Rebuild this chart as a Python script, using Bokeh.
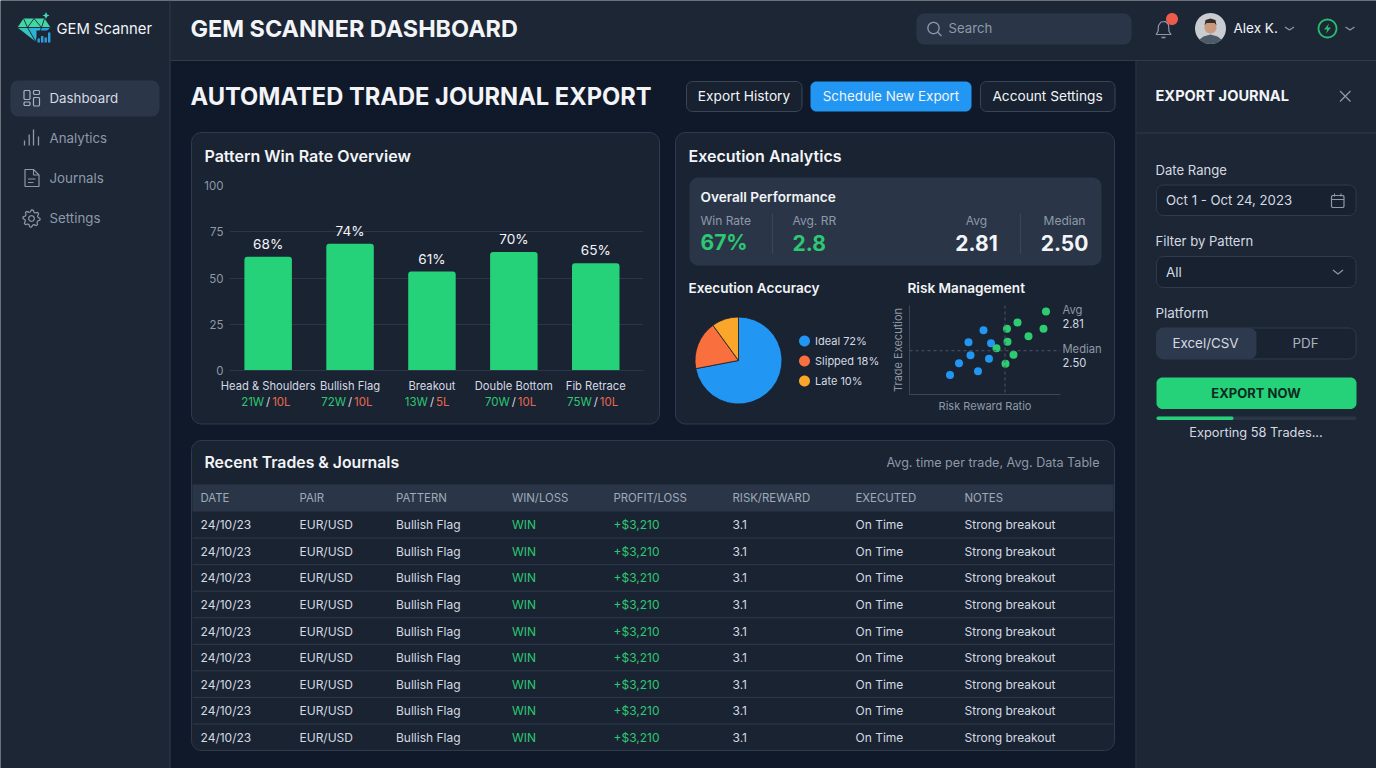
import math
from bokeh.plotting import figure
from bokeh.models import Range1d, ColumnDataSource, FixedTicker, Span
from bokeh.core.properties import value
from bokeh.embed import file_html
from bokeh.resources import INLINE

# ---------------- data ----------------
patterns = ["Head & Shoulders", "Bullish Flag", "Breakout", "Double Bottom", "Fib Retrace"]
bar_heights = [61.5, 68.5, 53.5, 64, 58]
bar_labels = ["68%", "74%", "61%", "70%", "65%"]
wins = ["21W", "72W", "13W", "70W", "75W"]
losses = ["10L", "10L", "5L", "10L", "10L"]
y_ticks = [0, 25, 50, 75, 100]

pie_names = ["Ideal", "Slipped", "Late"]
pie_values = [72, 18, 10]

low_x = [1.71, 2.27, 1.89, 2.12, 2.49, 2.08, 2.53, 2.38]
low_y = [2.01, 2.09, 2.25, 2.41, 2.34, 2.67, 2.65, 2.91]
high_x = [2.82, 2.98, 2.64, 2.86, 2.85, 3.06, 3.28, 3.58, 3.63]
high_y = [2.24, 2.42, 2.55, 2.68, 2.94, 3.07, 2.79, 2.94, 3.29]
avg_rr = 2.81
median_rr = 2.50

table_headers = ["DATE", "PAIR", "PATTERN", "WIN/LOSS", "PROFIT/LOSS", "RISK/REWARD", "EXECUTED", "NOTES"]
t_date = ["24/10/23"] * 9
t_pair = ["EUR/USD"] * 9
t_pattern = ["Bullish Flag"] * 9
t_result = ["WIN"] * 9
t_profit = ["+$3,210"] * 9
t_rr = ["3.1"] * 9
t_exec = ["On Time"] * 9
t_notes = ["Strong breakout"] * 9

nav_items = ["Dashboard", "Analytics", "Journals", "Settings"]

# ---------------- style ----------------
FONT = "Inter"
SEMI = "Inter SemiBold"
SIDE = "#1c2635"
MAIN = "#101929"
CARD = "#1a2332"
BAND = "#2a3648"
EDGE = "#2f3b4d"
WHITE = "#f2f4f7"
SOFT = "#d5dae2"
GRAY = "#8e99a8"
GREEN = "#25d27a"
TGREEN = "#2cc873"
RED = "#e8694f"
BLUE = "#2196f3"
ORANGE = "#f9703e"
AMBER = "#f9a62b"
VF = value(FONT)

canvas = figure(width=1376, height=768, x_range=Range1d(0, 1376), y_range=Range1d(768, 0),
                x_axis_type=None, y_axis_type=None, output_backend="svg", toolbar_location=None,
                min_border=0, outline_line_color=None, background_fill_color=MAIN, border_fill_color=MAIN,
                styles={"position": "absolute", "left": "0px", "top": "0px"})


def rr(x0, y0, x1, y1, r, fill=None, line=None, lw=1.0):
    xs, ys = [], []
    for cx, cy, a0 in ((x1 - r, y0 + r, -90), (x1 - r, y1 - r, 0), (x0 + r, y1 - r, 90), (x0 + r, y0 + r, 180)):
        for k in range(9):
            a = math.radians(a0 + k * 90 / 8)
            xs.append(cx + r * math.cos(a))
            ys.append(cy + r * math.sin(a))
    canvas.patch(xs, ys, fill_color=fill, line_color=line, line_width=lw)


def poly(pts, fill=None, line=None, lw=1.0):
    canvas.patch([p[0] for p in pts], [p[1] for p in pts], fill_color=fill, line_color=line, line_width=lw)


def pl(pts, color, lw=1.3):
    canvas.line([p[0] for p in pts], [p[1] for p in pts], line_color=color, line_width=lw)


def circ(cx, cy, r, fill=None, line=None, lw=1.0):
    poly([(cx + r * math.cos(i * math.pi / 24), cy + r * math.sin(i * math.pi / 24)) for i in range(48)], fill, line, lw)


def T(x, y, s, size, color=WHITE, bold=False, align="left", semi=False):
    canvas.text([x - 1], [y - 1], text=[s], text_font=value(SEMI if semi else FONT), text_font_size=f"{size}px", text_color=color,
                text_font_style="bold" if bold else "normal", text_align=align, text_baseline="middle")


def chevron(cx, cy, color=GRAY, w=4.5, h=3):
    pl([(cx - w, cy - h / 2), (cx, cy + h / 2), (cx + w, cy - h / 2)], color, 1.2)


# panels
poly([(0, 0), (170, 0), (170, 768), (0, 768)], SIDE)
poly([(170, 0), (1376, 0), (1376, 60), (170, 60)], SIDE)
poly([(1136, 60), (1376, 60), (1376, 768), (1136, 768)], SIDE)
pl([(169.5, 0), (169.5, 768)], EDGE, 1)
pl([(170, 60), (1376, 60)], EDGE, 1)
pl([(1135.5, 60), (1135.5, 768)], EDGE, 1)
pl([(1136, 132.5), (1376, 132.5)], EDGE, 1)

# logo
poly([(23, 18), (44, 18), (50, 27), (17, 27)], "#41d8a4")
poly([(17, 27), (27, 27), (35, 41)], "#34c6ba")
poly([(27, 27), (41, 27), (35, 41)], "#2cb2d6")
poly([(41, 27), (50, 27), (35, 41)], "#2a9fdf")
for seg in ([(23, 18), (27, 27), (33.5, 18), (41, 27), (44, 18)], [(17, 27), (50, 27)], [(27, 27), (35, 41), (41, 27)]):
    pl(seg, SIDE, 0.9)
poly([(36, 30), (51, 30), (51, 43), (36, 43)], SIDE)
for bx, bt in ((37, 38), (40.5, 35.5), (44, 37), (47.5, 32)):
    poly([(bx, bt), (bx + 2.4, bt), (bx + 2.4, 42), (bx, 42)], "#2a9fdf")
poly([(45.5, 11.5), (46.6, 14), (49, 15), (46.6, 16), (45.5, 18.5), (44.4, 16), (42, 15), (44.4, 14)], "#3fd6c0")
T(57, 29.5, "GEM Scanner", 14.8, WHITE)

# nav
rr(10, 80, 159, 116, 8, "#2b3749")
nav_y = [98, 138, 178, 218]
for name, y, c in zip(nav_items, nav_y, [SOFT, GRAY, GRAY, GRAY]):
    T(50, y, name, 13.3, c)
for a in ((23.5, 90, 29.5, 99), (23.5, 101.5, 29.5, 105), (33, 90, 39, 94), (33, 97, 39, 105.5)):
    rr(a[0], a[1], a[2], a[3], 1.2, None, "#a8b3c2", 1.2)
for x, top in ((24, 140), (28.7, 134), (33, 129), (38, 136)):
    pl([(x, top), (x, 145)], GRAY, 1.3)
poly([(24.5, 169), (33, 169), (38.5, 174.5), (38.5, 186), (24.5, 186)], None, GRAY, 1.2)
pl([(33, 169), (33, 174.5), (38.5, 174.5)], GRAY, 1.1)
pl([(27.5, 178.5), (35, 178.5)], GRAY, 1)
pl([(27.5, 182), (33, 182)], GRAY, 1)
gear = []
for i in range(32):
    a = i * math.pi / 16
    gear.append((31 + (8.6 if i % 4 < 2 else 6.6) * math.cos(a), 218 + (8.6 if i % 4 < 2 else 6.6) * math.sin(a)))
poly(gear, None, GRAY, 1.2)
circ(31, 218, 2.8, None, GRAY, 1.2)

# top bar
T(191, 29, "GEM SCANNER DASHBOARD", 23.4, WHITE, True)
rr(916, 13, 1131, 44, 8, BAND)
circ(933, 27.5, 5.6, None, GRAY, 1.3)
pl([(937, 31.5), (941, 35.5)], GRAY, 1.3)
T(949, 28.5, "Search", 13.2, GRAY)
pl([(1155.5, 34), (1157.5, 31), (1158, 25), (1160.5, 21.5), (1165, 21), (1168, 24), (1168.5, 31), (1170.5, 34), (1155.5, 34)], GRAY, 1.2)
pl([(1161, 37), (1165, 37)], GRAY, 1.4)
circ(1171.5, 18.5, 6, "#ef5b4b")
circ(1210, 28, 15.5, "#c9cdd1")
poly([(1199, 39), (1203, 36), (1210, 34), (1217, 36), (1221, 39), (1216, 42.8), (1210, 43.5), (1204, 42.8)], "#4d5a68")
circ(1210, 27, 6, "#c99a7e")
poly([(1204, 25), (1205, 19.5), (1210, 18), (1215, 19.5), (1216, 25), (1214, 22.5), (1206, 22.5)], "#3a2c26")
T(1234, 28.5, "Alex K.", 13.5, WHITE)
chevron(1289, 28)
circ(1327, 28, 9, None, "#27c06f", 1.8)
poly([(1328.5, 23), (1323.5, 29), (1326.8, 29), (1325.5, 33), (1330.5, 27), (1327.2, 27)], "#27c06f")
chevron(1349.5, 28)

# heading and buttons
T(191, 97, "AUTOMATED TRADE JOURNAL EXPORT", 23.7, WHITE, True)
rr(686, 81, 801.5, 111, 6, "#172130", "#3a4657")
T(744.5, 96.5, "Export History", 13.7, WHITE, align="center")
rr(810, 81, 971, 111, 6, BLUE)
T(891.5, 96.5, "Schedule New Export", 13.4, WHITE, align="center")
rr(980, 81, 1114.5, 111, 6, "#172130", "#3a4657")
T(1048, 96.5, "Account Settings", 13.7, WHITE, align="center")

# cards
rr(191, 132, 659, 423.5, 10, CARD, EDGE)
rr(675, 132, 1114, 423.5, 10, CARD, EDGE)
rr(191, 440, 1114, 750, 10, CARD, EDGE)
T(205, 156, "Pattern Win Rate Overview", 16, WHITE, semi=True)
T(689, 156, "Execution Analytics", 16, WHITE, semi=True)

# performance band
rr(689, 177, 1101, 265, 9, BAND)
T(701, 197, "Overall Performance", 13.6, WHITE, semi=True)
T(701, 220.5, "Win Rate", 12, GRAY)
T(701, 243, "67%", 21, TGREEN, True)
pl([(772, 213), (772, 253)], "#3b4759", 1)
T(793, 220.5, "Avg. RR", 12, GRAY)
T(793, 243, "2.8", 21, TGREEN, True)
T(977, 220.5, "Avg", 12, GRAY, align="center")
T(977, 243, f"{avg_rr:.2f}", 21, WHITE, True, "center")
pl([(1020, 213), (1020, 253)], "#3b4759", 1)
T(1065, 220.5, "Median", 12, GRAY, align="center")
T(1065, 243, f"{median_rr:.2f}", 21, WHITE, True, "center")

T(689, 288, "Execution Accuracy", 13.6, WHITE, semi=True)
T(908, 288, "Risk Management", 13.6, WHITE, semi=True)

# pie legend
for name, val, y, col in zip(pie_names, pie_values, [340.5, 360.5, 380.5], [BLUE, ORANGE, AMBER]):
    circ(804, y, 5.5, col)
    T(815.5, y + 0.5, f"{name} {val}%", 11, SOFT)
T(1063, 310, "Avg", 11.2, GRAY)
T(1063, 324, f"{avg_rr:.2f}", 11.2, SOFT)
T(1063, 349, "Median", 11.2, GRAY)
T(1063, 363, f"{median_rr:.2f}", 11.2, SOFT)

# table head
T(205, 463, "Recent Trades & Journals", 15.8, WHITE, semi=True)
T(1100, 463, "Avg. time per trade, Avg. Data Table", 12.6, GRAY, align="right")
poly([(192, 484), (1113, 484), (1113, 511), (192, 511)], BAND)
col_x = [200, 299, 395.5, 511.5, 613, 732, 855, 964]
for hdr, x in zip(table_headers, col_x):
    T(x + 1, 498.5, hdr, 11.4, "#a0aab8")

# right panel
T(1156, 96.5, "EXPORT JOURNAL", 14.6, WHITE, True)
pl([(1339.5, 90.5), (1350, 101)], GRAY, 1.3)
pl([(1350, 90.5), (1339.5, 101)], GRAY, 1.3)
T(1156, 170, "Date Range", 13.1, SOFT)
rr(1156, 184.5, 1355.5, 215, 7, "#18212f", EDGE)
T(1166.5, 200, "Oct 1 - Oct 24, 2023", 13.2, SOFT)
rr(1331, 195, 1343.5, 207, 1.5, None, GRAY, 1.2)
pl([(1331, 199), (1343.5, 199)], GRAY, 1.1)
pl([(1334, 193), (1334, 196)], GRAY, 1.1)
pl([(1340.5, 193), (1340.5, 196)], GRAY, 1.1)
T(1156, 241.5, "Filter by Pattern", 13.1, SOFT)
rr(1156, 256, 1355.5, 287, 7, "#18212f", EDGE)
T(1166.5, 272, "All", 13.4, SOFT)
chevron(1337.5, 271.5, GRAY, 5, 4)
T(1156, 313, "Platform", 13.4, SOFT)
rr(1156, 327.5, 1355.5, 358.5, 7, "#1a2331", EDGE)
rr(1156, 327.5, 1256, 358.5, 7, "#2d394c")
T(1206, 343.5, "Excel/CSV", 13.4, SOFT, align="center")
T(1306, 343.5, "PDF", 13.4, "#a9b3c0", align="center")
rr(1156, 377, 1356, 408.5, 6, GREEN)
T(1256.5, 393, "EXPORT NOW", 13, "#0d2a20", True, "center")
rr(1156, 416, 1356, 419.5, 1.7, "#2a3646")
rr(1156, 416, 1233, 419.5, 1.7, GREEN)
T(1256.5, 432.5, "Exporting 58 Trades...", 12.8, SOFT, align="center")


def place(fig, x, y):
    fig.styles = {"position": "absolute", "left": f"{x}px", "top": f"{y}px"}
    fig.background_fill_color = None
    fig.border_fill_color = None
    fig.outline_line_color = None
    return fig


# ---------------- bar chart ----------------
idx = list(range(len(patterns)))
bar_src = ColumnDataSource(dict(x=idx, h=bar_heights, label=bar_labels))
shared_x = Range1d(-0.472, 4.583)
bar = figure(width=460, height=220, x_range=shared_x, y_range=Range1d(0, 100), output_backend="svg",
             toolbar_location=None, min_border_left=34, min_border_right=12, min_border_top=10, min_border_bottom=25)
place(bar, 195, 175)
bar.vbar(x="x", top="h", width=47.5 / 81.9, bottom=0, source=bar_src, fill_color=GREEN, line_color=None,
         border_radius=(3, 3, 0, 0))
bar.text(x="x", y="h", text="label", source=bar_src, text_font=VF, text_font_size="13.6px", text_color=WHITE,
         text_align="center", text_baseline="bottom", y_offset=-5)
bar.xgrid.visible = False
bar.ygrid.ticker = FixedTicker(ticks=y_ticks)
bar.ygrid.grid_line_color = "#2b3749"
bar.ygrid.level = "underlay"
bar.xaxis.ticker = FixedTicker(ticks=idx)
bar.xaxis.major_label_overrides = dict(zip(idx, patterns))
bar.xaxis.major_tick_line_color = None
bar.xaxis.major_tick_out = 0
bar.xaxis.major_tick_in = 0
bar.xaxis.minor_tick_line_color = None
bar.xaxis.minor_tick_out = 0
bar.xaxis.axis_line_color = "#2b3749"
bar.xaxis.major_label_text_font = FONT
bar.xaxis.major_label_text_font_size = "11.2px"
bar.xaxis.major_label_text_color = SOFT
bar.xaxis.major_label_standoff = 8
bar.yaxis.ticker = FixedTicker(ticks=y_ticks)
bar.yaxis.major_tick_line_color = None
bar.yaxis.major_tick_out = 0
bar.yaxis.major_tick_in = 0
bar.yaxis.minor_tick_line_color = None
bar.yaxis.minor_tick_out = 0
bar.yaxis.axis_line_color = None
bar.yaxis.major_label_text_font = FONT
bar.yaxis.major_label_text_font_size = "11.5px"
bar.yaxis.major_label_text_color = GRAY
bar.yaxis.major_label_standoff = 6

wl = figure(width=460, height=18, x_range=shared_x, y_range=Range1d(0, 1), x_axis_type=None, y_axis_type=None,
            output_backend="svg", toolbar_location=None, min_border_left=34, min_border_right=12,
            min_border_top=0, min_border_bottom=0)
place(wl, 195, 392)
wl_src = ColumnDataSource(dict(x=idx, y=[0.5] * len(idx), w=wins, l=losses, s=["/"] * len(idx)))
common = dict(source=wl_src, text_font=VF, text_font_size="11.5px", text_baseline="middle")
wl.text(x="x", y="y", text="w", text_color=TGREEN, text_align="right", x_offset=-4, **common)
wl.text(x="x", y="y", text="s", text_color=SOFT, text_align="center", x_offset=0, **common)
wl.text(x="x", y="y", text="l", text_color=RED, text_align="left", x_offset=4, **common)

# ---------------- pie ----------------
total = sum(pie_values)
ends = [sum(pie_values[:i + 1]) / total for i in range(len(pie_values))]
starts = [0] + ends[:-1]
pie_src = ColumnDataSource(dict(
    start=[math.pi / 2 - 2 * math.pi * s for s in starts],
    end=[math.pi / 2 - 2 * math.pi * e for e in ends],
    color=[BLUE, ORANGE, AMBER]))
pie = figure(width=100, height=100, x_range=Range1d(-50, 50), y_range=Range1d(-50, 50), x_axis_type=None,
             y_axis_type=None, output_backend="svg", toolbar_location=None, min_border=0)
place(pie, 688, 310)
pie.wedge(x=0, y=0, radius=43.5, start_angle="end", end_angle="start", direction="anticlock", source=pie_src,
          fill_color="color", line_color="#1a1f2a", line_width=0.8)

# ---------------- scatter ----------------
sc = figure(width=179, height=115, x_range=Range1d(0.90, 3.92), y_range=Range1d(1.62, 3.41), output_backend="svg",
            toolbar_location=None, min_border_left=24, min_border_right=4, min_border_top=5, min_border_bottom=21)
place(sc, 885, 300)
sc.grid.visible = False
for ax, label, stand in ((sc.xaxis[0], "Risk Reward Ratio", 4), (sc.yaxis[0], "Trade Execution", 5)):
    ax.ticker = FixedTicker(ticks=[])
    ax.axis_label = label
    ax.axis_label_text_font = FONT
    ax.axis_label_text_font_style = "normal"
    ax.axis_label_text_font_size = "11px"
    ax.axis_label_text_color = GRAY
    ax.axis_label_standoff = stand
    ax.axis_line_color = "#3b4759"
    ax.major_tick_line_color = None
    ax.major_tick_out = 0
    ax.major_tick_in = 0
    ax.minor_tick_line_color = None
    ax.minor_tick_out = 0
sc.add_layout(Span(location=avg_rr, dimension="height", line_color="#4b5768", line_dash=[3, 3], line_width=1))
sc.add_layout(Span(location=median_rr, dimension="width", line_color="#4b5768", line_dash=[3, 3], line_width=1))
sc.scatter(low_x, low_y, size=8, fill_color=BLUE, line_color=None)
sc.scatter(high_x, high_y, size=8, fill_color="#2ecc71", line_color=None)

# ---------------- table ----------------
rows = list(range(len(t_date)))
tb_src = ColumnDataSource(dict(row=rows, date=t_date, pair=t_pair, pattern=t_pattern, result=t_result,
                               profit=t_profit, rr=t_rr, execd=t_exec, notes=t_notes))
tb = figure(width=921, height=239, x_range=Range1d(192, 1113), y_range=Range1d(len(rows) - 0.5, -0.5),
            x_axis_type=None, y_axis_type=None, output_backend="svg", toolbar_location=None, min_border=0)
place(tb, 192, 511)
tb.segment(x0=192, x1=1113, y0=[r + 0.5 for r in rows[:-1]], y1=[r + 0.5 for r in rows[:-1]],
           line_color="#2f3b4d", line_width=1)
for key, x, col in zip(["date", "pair", "pattern", "result", "profit", "rr", "execd", "notes"], col_x,
                       [SOFT, SOFT, SOFT, TGREEN, TGREEN, SOFT, SOFT, SOFT]):
    tb.text(x=x, y="row", text=key, source=tb_src, text_font=VF, text_font_size="12px", text_color=col,
            text_baseline="middle", text_align="left")

html = file_html([canvas, bar, wl, pie, sc, tb], INLINE)
open("out.html", "w").write(html)
